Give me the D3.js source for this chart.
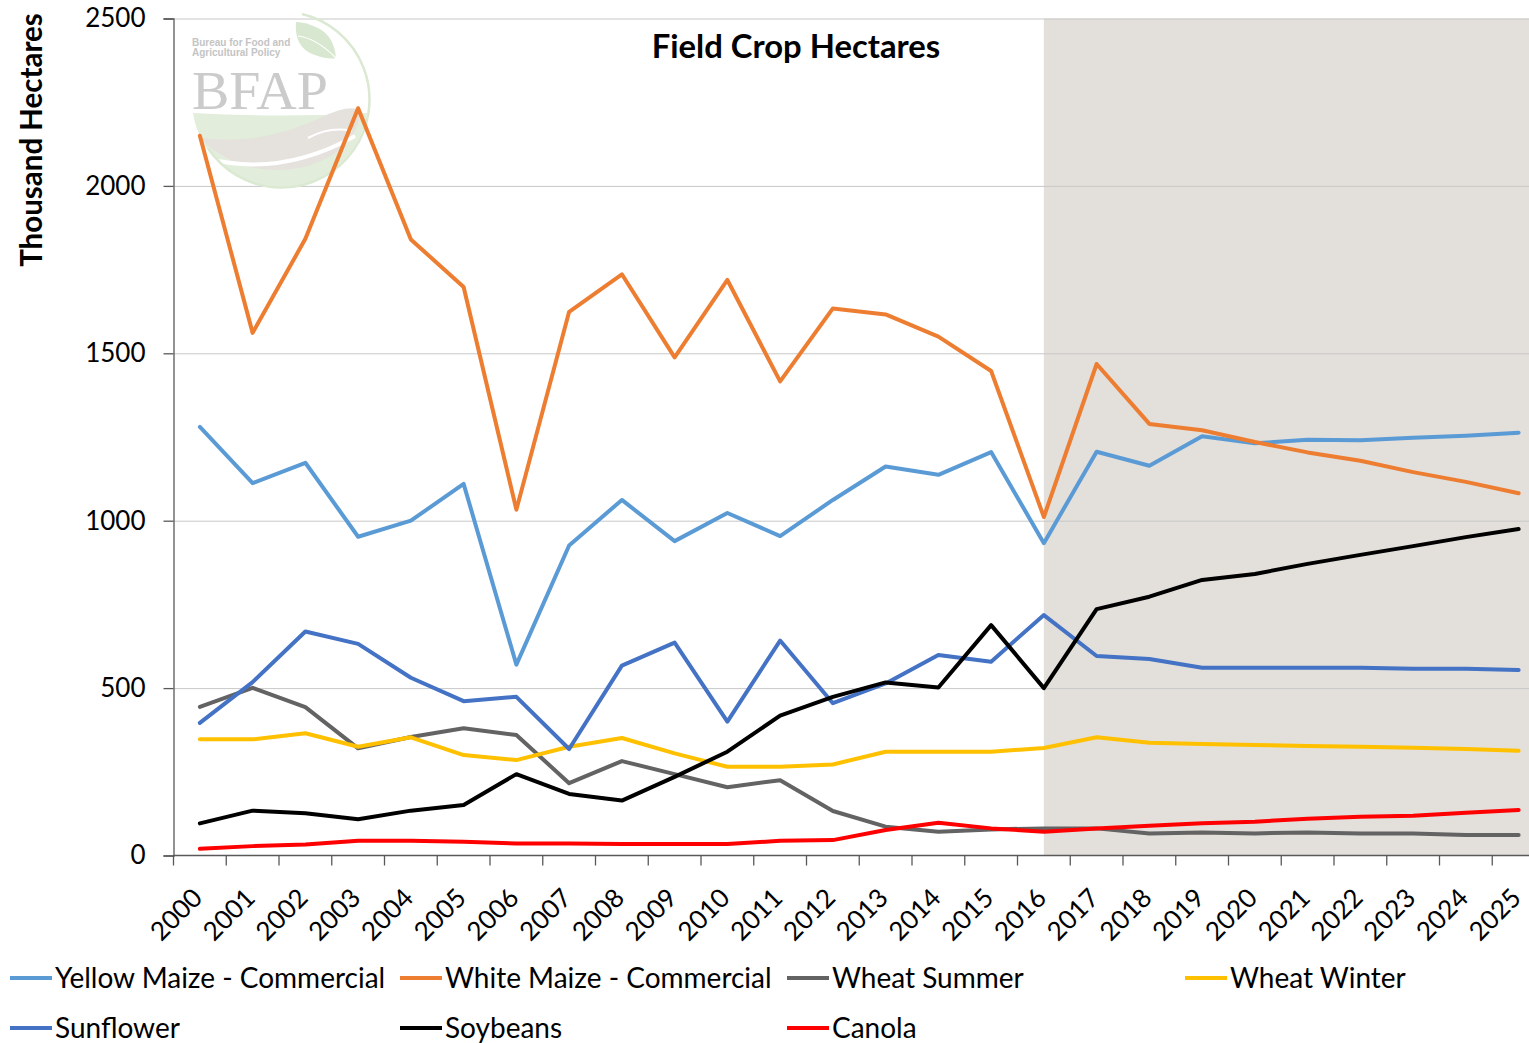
<!DOCTYPE html>
<html>
<head>
<meta charset="utf-8">
<script src="https://cdn.jsdelivr.net/npm/d3@7"></script>
<style>
  body { margin: 0; background: #fff; }
  svg { display: block; font-family: Lato, "Open Sans", sans-serif; }
</style>
</head>
<body>
<div id="chart"></div>
<script>
const width = 1529;
const height = 1043;

// categories
const years = ['2000', '2001', '2002', '2003', '2004', '2005', '2006', '2007', '2008', '2009',
  '2010', '2011', '2012', '2013', '2014', '2015', '2016', '2017', '2018', '2019',
  '2020', '2021', '2022', '2023', '2024', '2025'];
const projectionStart = '2016';

// thousand hectares
const yellowMaize = [1280, 1112, 1173, 952, 1000, 1110, 570, 926, 1062, 939, 1023, 954, 1062, 1162, 1137, 1205, 933, 1206, 1164, 1252, 1231, 1242, 1240, 1248, 1254, 1263];
const whiteMaize = [2150, 1561, 1842, 2232, 1840, 1698, 1033, 1624, 1736, 1488, 1719, 1416, 1634, 1616, 1550, 1447, 1011, 1468, 1289, 1270, 1235, 1204, 1179, 1145, 1116, 1082];
const wheatSummer = [444, 501, 443, 320, 354, 380, 360, 216, 282, 243, 204, 225, 133, 86, 71, 78, 81, 81, 66, 69, 66, 69, 66, 66, 61, 61];
const wheatWinter = [347, 347, 365, 325, 353, 300, 285, 325, 351, 305, 265, 265, 272, 310, 310, 310, 321, 353, 337, 333, 330, 327, 325, 322, 318, 313];
const sunflower = [396, 518, 669, 632, 531, 461, 474, 318, 567, 636, 400, 642, 455, 514, 599, 579, 718, 596, 587, 561, 561, 561, 561, 558, 558, 554];
const soybeans = [96, 134, 126, 108, 134, 151, 243, 184, 164, 235, 310, 418, 474, 517, 502, 688, 500, 736, 773, 823, 841, 871, 898, 924, 951, 975];
const canola = [20, 28, 33, 44, 44, 41, 36, 36, 34, 34, 34, 44, 46, 76, 98, 81, 71, 81, 89, 96, 101, 110, 116, 119, 128, 136];

const yTicks = [0, 500, 1000, 1500, 2000, 2500];

const series = [
  { name: 'Yellow Maize - Commercial', values: yellowMaize, color: '#5b9bd5' },
  { name: 'White Maize - Commercial', values: whiteMaize, color: '#ed7d31' },
  { name: 'Wheat Summer', values: wheatSummer, color: '#636363' },
  { name: 'Wheat Winter', values: wheatWinter, color: '#ffc000' },
  { name: 'Sunflower', values: sunflower, color: '#4472c4' },
  { name: 'Soybeans', values: soybeans, color: '#000000' },
  { name: 'Canola', values: canola, color: '#ff0000' },
];

const margin = { top: 18.5, left: 173.5, bottom: 855.5 };
const bandW = 52.75;

const svg = d3.select('#chart').append('svg')
  .attr('width', width)
  .attr('height', height);

const x = d3.scaleBand()
  .domain(years)
  .range([margin.left, margin.left + bandW * years.length])
  .padding(0);
const cx = (d) => x(d) + x.bandwidth() / 2;

const y = d3.scaleLinear().domain([0, 2500]).range([margin.bottom, margin.top]);

const plotRight = margin.left + bandW * years.length;

// projection shading
svg.append('rect')
  .attr('x', cx(projectionStart))
  .attr('y', y(2500))
  .attr('width', plotRight - cx(projectionStart))
  .attr('height', y(0) - y(2500))
  .attr('fill', '#e3dfdb');

// gridlines
svg.append('g')
  .attr('transform', `translate(${margin.left},0)`)
  .call(d3.axisLeft(y).tickValues(yTicks.slice(1)).tickFormat('').tickSize(-(plotRight - margin.left)))
  .call((g) => g.select('.domain').remove())
  .call((g) => g.selectAll('line').attr('stroke', '#c8c8c8').attr('stroke-width', 1));

// BFAP watermark logo
const logo = svg.append('g').attr('transform', 'translate(190,18)');
logo.append('path')
  .attr('d', 'M 3 95 Q 90 100 177 95 A 88 88 0 0 1 3 95 Z')
  .attr('fill', '#e2eedb');
logo.append('path')
  .attr('d', 'M 10 120 Q 70 128 130 100 Q 158 86 170 92 Q 168 135 110 150 Q 50 160 10 120 Z')
  .attr('fill', '#e5e1dd');
logo.append('path')
  .attr('d', 'M 15 140 Q 90 160 165 118')
  .attr('fill', 'none').attr('stroke', '#fff').attr('stroke-width', 4);
logo.append('path')
  .attr('d', 'M 118 120 Q 140 108 162 113')
  .attr('fill', 'none').attr('stroke', '#fff').attr('stroke-width', 2);
logo.append('path')
  .attr('d', 'M 112 -4 A 88 88 0 1 1 18 130')
  .attr('fill', 'none').attr('stroke', '#dbe9d3').attr('stroke-width', 2.5);
logo.append('path')
  .attr('d', 'M 106 4 Q 104 28 122 36 Q 138 42 146 40 Q 144 18 128 10 Q 116 4 106 4 Z')
  .attr('fill', '#d8e7cf');
logo.append('path')
  .attr('d', 'M 108 18 Q 126 20 146 40')
  .attr('fill', 'none').attr('stroke', '#fff').attr('stroke-width', 1.2);
logo.append('text').attr('x', 2).attr('y', 28)
  .attr('font-size', 10).attr('font-weight', 700).attr('fill', '#c4c4c4')
  .attr('font-family', '"Liberation Sans Narrow", "Liberation Sans", sans-serif')
  .text('Bureau for Food and');
logo.append('text').attr('x', 2).attr('y', 38)
  .attr('font-size', 10).attr('font-weight', 700).attr('fill', '#c4c4c4')
  .attr('font-family', '"Liberation Sans Narrow", "Liberation Sans", sans-serif')
  .text('Agricultural Policy');
logo.append('text').attr('x', 2).attr('y', 91)
  .attr('font-size', 55).attr('fill', '#cbcbcb')
  .attr('font-family', '"Liberation Serif", serif')
  .attr('textLength', 136).attr('lengthAdjust', 'spacingAndGlyphs')
  .text('BFAP');

// lines
const line = d3.line()
  .x((d, i) => cx(years[i]))
  .y((d) => y(d));

svg.append('g')
  .selectAll('path')
  .data(series)
  .join('path')
  .attr('d', (d) => line(d.values))
  .attr('fill', 'none')
  .attr('stroke', (d) => d.color)
  .attr('stroke-width', 4)
  .attr('stroke-linejoin', 'round')
  .attr('stroke-linecap', 'round');

// y axis
const yAxis = svg.append('g')
  .attr('transform', `translate(${margin.left},0)`)
  .call(d3.axisLeft(y).tickValues(yTicks).tickSize(10).tickPadding(18).tickFormat(d3.format('d')));
yAxis.select('.domain').attr('stroke', '#595959').attr('stroke-width', 1.3);
yAxis.selectAll('.tick line').attr('stroke', '#595959').attr('stroke-width', 1.3);
yAxis.selectAll('text').attr('font-size', 26).attr('fill', '#000').attr('font-family', 'Lato');

// x axis: ticks at band edges, labels at band centres
const xAxis = svg.append('g')
  .attr('transform', `translate(0,${margin.bottom})`);
xAxis.append('line')
  .attr('x1', margin.left).attr('x2', plotRight)
  .attr('stroke', '#595959').attr('stroke-width', 1.3);
xAxis.selectAll('line.tick')
  .data(years)
  .join('line')
  .attr('class', 'tick')
  .attr('x1', (d) => x(d)).attr('x2', (d) => x(d))
  .attr('y1', 0).attr('y2', 10)
  .attr('stroke', '#595959').attr('stroke-width', 1.3);
xAxis.selectAll('text')
  .data(years)
  .join('text')
  .attr('transform', (d) => `translate(${cx(d) + 4},44) rotate(-45)`)
  .attr('text-anchor', 'end')
  .attr('font-size', 26)
  .attr('fill', '#000')
  .text((d) => d);

// title
svg.append('text')
  .attr('x', 796).attr('y', 58)
  .attr('text-anchor', 'middle')
  .attr('font-size', 32.8).attr('font-weight', 700)
  .text('Field Crop Hectares');

// y label
svg.append('text')
  .attr('transform', 'translate(42,140) rotate(-90)')
  .attr('text-anchor', 'middle')
  .attr('font-size', 29.5).attr('font-weight', 700)
  .text('Thousand Hectares');

// legend
const legendPos = [[10, 978], [400, 978], [787, 978], [1185, 978], [10, 1028], [400, 1028], [787, 1028]];
const legend = svg.append('g')
  .selectAll('g')
  .data(series)
  .join('g')
  .attr('transform', (d, i) => `translate(${legendPos[i][0]},${legendPos[i][1]})`);
legend.append('line')
  .attr('x1', 0).attr('x2', 42)
  .attr('stroke', (d) => d.color).attr('stroke-width', 4);
legend.append('text')
  .attr('x', 45).attr('y', 0)
  .attr('dy', '0.35em')
  .attr('font-size', 28)
  .text((d) => d.name);
</script>
</body>
</html>
